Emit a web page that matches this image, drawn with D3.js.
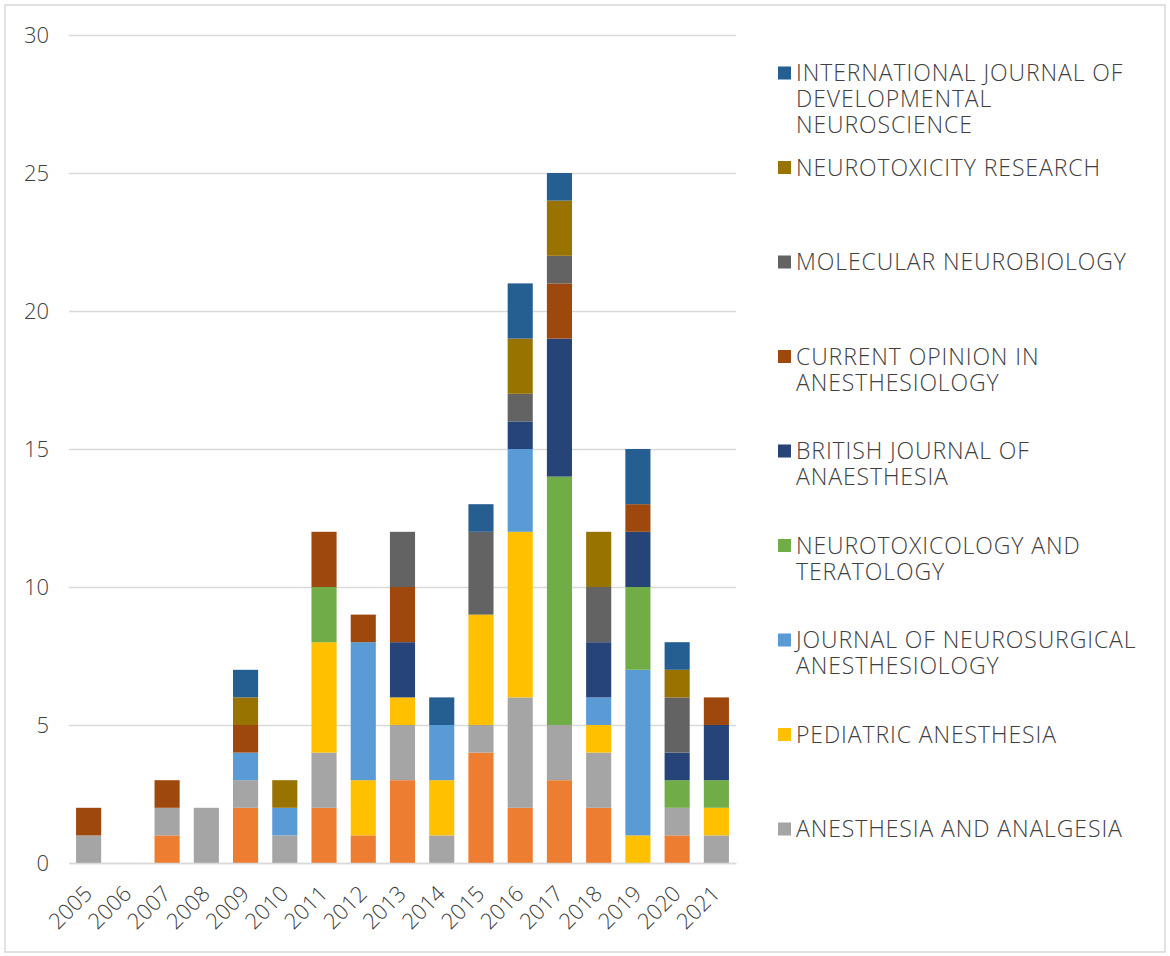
<!DOCTYPE html>
<html>
<head>
<meta charset="utf-8">
<script src="https://cdn.jsdelivr.net/npm/d3@7"></script>
<style>
  body { margin: 0; background: #fff; }
  text { font-family: "Open Sans", "Noto Sans", sans-serif; font-weight: 300; fill: #404040; }
</style>
</head>
<body>
<svg width="1170" height="956"></svg>
<script>
var years = ["2005","2006","2007","2008","2009","2010","2011","2012","2013","2014","2015","2016","2017","2018","2019","2020","2021"];

// series listed bottom to top of the stack
var seriesNames = ["OTHER",
  "ANESTHESIA AND ANALGESIA",
  "PEDIATRIC ANESTHESIA",
  "JOURNAL OF NEUROSURGICAL ANESTHESIOLOGY",
  "NEUROTOXICOLOGY AND TERATOLOGY",
  "BRITISH JOURNAL OF ANAESTHESIA",
  "CURRENT OPINION IN ANESTHESIOLOGY",
  "MOLECULAR NEUROBIOLOGY",
  "NEUROTOXICITY RESEARCH",
  "INTERNATIONAL JOURNAL OF DEVELOPMENTAL NEUROSCIENCE"];

var other      = [0,0,1,0,2,0,2,1,3,0,4,2,3,2,0,1,0];
var anesAnalg  = [1,0,1,2,1,1,2,0,2,1,1,4,2,2,0,1,1];
var pediatric  = [0,0,0,0,0,0,4,2,1,2,4,6,0,1,1,0,1];
var neurosurg  = [0,0,0,0,1,1,0,5,0,2,0,3,0,1,6,0,0];
var teratology = [0,0,0,0,0,0,2,0,0,0,0,0,9,0,3,1,1];
var bja        = [0,0,0,0,0,0,0,0,2,0,0,1,5,2,2,1,2];
var curOpinion = [1,0,1,0,1,0,2,1,2,0,0,0,2,0,1,0,1];
var molNeuro   = [0,0,0,0,0,0,0,0,2,0,3,1,1,2,0,2,0];
var neurotoxRes= [0,0,0,0,1,1,0,0,0,0,0,2,2,2,0,1,0];
var ijdn       = [0,0,0,0,1,0,0,0,0,1,1,2,1,0,2,1,0];

var seriesValues = [other, anesAnalg, pediatric, neurosurg, teratology, bja, curOpinion, molNeuro, neurotoxRes, ijdn];
var colors = ["#ED7D31","#A5A5A5","#FFC000","#5B9BD5","#70AD47","#264478","#9E480E","#636363","#997300","#255E91"];

// legend (top to bottom), wrapped as in the picture
var legendLines = [
  ["INTERNATIONAL JOURNAL OF","DEVELOPMENTAL","NEUROSCIENCE"],
  ["NEUROTOXICITY RESEARCH"],
  ["MOLECULAR NEUROBIOLOGY"],
  ["CURRENT OPINION IN","ANESTHESIOLOGY"],
  ["BRITISH JOURNAL OF","ANAESTHESIA"],
  ["NEUROTOXICOLOGY AND","TERATOLOGY"],
  ["JOURNAL OF NEUROSURGICAL","ANESTHESIOLOGY"],
  ["PEDIATRIC ANESTHESIA"],
  ["ANESTHESIA AND ANALGESIA"]
];
var legendColors = ["#255E91","#997300","#636363","#9E480E","#264478","#70AD47","#5B9BD5","#FFC000","#A5A5A5"];
var yTicks = [0,5,10,15,20,25,30];

var svg = d3.select("svg");

svg.append("rect")
    .attr("x", 5).attr("y", 5)
    .attr("width", 1160).attr("height", 947)
    .attr("fill", "#fff")
    .attr("stroke", "#d9d9d9")
    .attr("stroke-width", 1.5);

var plotLeft = 69, plotRight = 736, plotTop = 35, plotBottom = 863;

var table = years.map(function(yr, i) {
  var row = {year: yr};
  seriesNames.forEach(function(s, j) { row[s] = seriesValues[j][i]; });
  return row;
});

var stack = d3.stack().keys(seriesNames)(table);

var x = d3.scaleBand().domain(years)
    .range([plotLeft, plotRight])
    .paddingInner(0.36).paddingOuter(0.18);
var y = d3.scaleLinear().domain([0, 30]).range([plotBottom, plotTop]);

// grid lines + y labels
var yAxis = svg.append("g")
    .attr("transform", "translate(" + plotLeft + ",0)")
    .call(d3.axisLeft(y).tickValues(yTicks).tickSize(-(plotRight - plotLeft)).tickPadding(20));
yAxis.select(".domain").remove();
yAxis.selectAll(".tick line").attr("stroke", "#d9d9d9").attr("stroke-width", 1.5);
yAxis.selectAll(".tick text")
    .style("font-family", "'Open Sans', 'Noto Sans', sans-serif")
    .style("font-weight", 300)
    .style("font-size", "22px").attr("fill", "#404040");

// bars
svg.append("g").selectAll("g")
  .data(stack)
  .enter().append("g")
    .attr("fill", function(d, i) { return colors[i]; })
  .selectAll("rect")
  .data(function(d) { return d; })
  .enter().append("rect")
    .attr("x", function(d) { return x(d.data.year); })
    .attr("y", function(d) { return y(d[1]); })
    .attr("width", x.bandwidth())
    .attr("height", function(d) { return y(d[0]) - y(d[1]); });

// x axis labels
var xAxis = svg.append("g")
    .attr("transform", "translate(0," + plotBottom + ")")
    .call(d3.axisBottom(x).tickSize(0).tickPadding(0));
xAxis.select(".domain").attr("stroke", "#d9d9d9").attr("stroke-width", 1.5);
xAxis.selectAll(".tick text")
    .style("font-family", "'Open Sans', 'Noto Sans', sans-serif")
    .style("font-weight", 300)
    .style("font-size", "22px").attr("fill", "#404040")
    .attr("text-anchor", "end")
    .attr("y", 0)
    .attr("dy", "0")
    .attr("transform", "translate(5,32) rotate(-45)");

// legend
var legend = svg.append("g").attr("transform", "translate(778,0)");
legendLines.forEach(function(lines, i) {
  var cy = 73 + i * 94.5;
  legend.append("rect")
      .attr("x", 0).attr("y", cy - 6.5)
      .attr("width", 13).attr("height", 13)
      .attr("fill", legendColors[i]);
  var t = legend.append("text")
      .attr("x", 18).attr("y", cy)
      .style("font-size", "23px")
      .style("letter-spacing", "0.9px");
  lines.forEach(function(l, k) {
    t.append("tspan").attr("x", 18)
        .attr("y", cy + k * 26)
        .attr("dy", "0.35em").text(l);
  });
});
</script>
</body>
</html>
